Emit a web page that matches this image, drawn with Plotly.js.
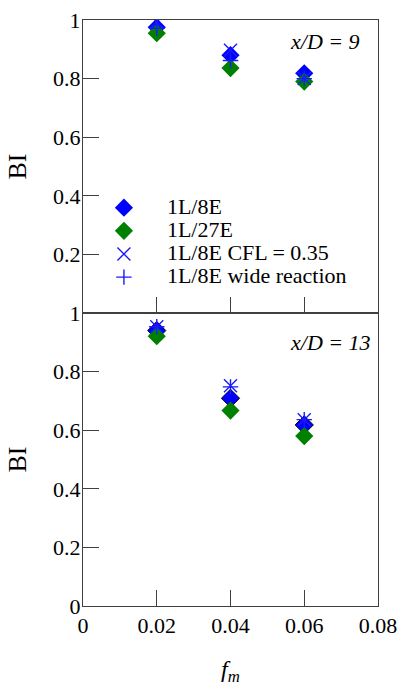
<!DOCTYPE html>
<html><head><meta charset="utf-8">
<script src="https://cdn.plot.ly/plotly-3.0.1.min.js"></script>
<style>html,body{margin:0;padding:0;background:#fff}</style>
</head><body><div id="chart" style="width:399px;height:686px"></div>
<script>
// f_m values
const fm = [0.02, 0.04, 0.06];
// x/D = 9 (top panel)
const bi9_1L8E = [0.975, 0.88, 0.818];
const bi9_1L27E = [0.955, 0.836, 0.79];
const bi9_CFL = [0.993, 0.897, 0.80];
const bi9_wide = [0.972, 0.862, 0.80];
// x/D = 13 (bottom panel)
const bi13_1L8E = [0.94, 0.709, 0.618];
const bi13_1L27E = [0.921, 0.667, 0.58];
const bi13_CFL = [0.953, 0.752, 0.636];
const bi13_wide = [0.953, 0.748, 0.636];
// labels
const seriesNames = ['1L/8E', '1L/27E', '1L/8E CFL = 0.35', '1L/8E wide reaction'];
const xTicks = [0, 0.02, 0.04, 0.06, 0.08];
const xTickText = ['0', '0.02', '0.04', '0.06', '0.08'];
const yTicksBottom = [0, 0.2, 0.4, 0.6, 0.8, 1];
const yTickTextBottom = ['0', '0.2', '0.4', '0.6', '0.8', '1'];
const yTicksTop = [0.2, 0.4, 0.6, 0.8, 1];
const yTickTextTop = ['0.2', '0.4', '0.6', '0.8', '1'];
const panelLabels = ['x/D = 9', 'x/D = 13'];

const BLUE = '#0000ff', GREEN = '#008000', XBLUE = '#1a1aff';
const lg = n => '<span style="font-size:22px">' + n + '</span>';

const traces = [
  {x: fm, y: bi9_1L8E, xaxis: 'x2', yaxis: 'y2', mode: 'markers', name: lg(seriesNames[0]),
   marker: {symbol: 'diamond', size: 14, color: BLUE, line: {width: 0}}},
  {x: fm, y: bi9_1L27E, xaxis: 'x2', yaxis: 'y2', mode: 'markers', name: lg(seriesNames[1]),
   marker: {symbol: 'diamond', size: 14, color: GREEN, line: {width: 0}}},
  {x: fm, y: bi9_CFL, xaxis: 'x2', yaxis: 'y2', mode: 'markers', name: lg(seriesNames[2]),
   marker: {symbol: 'x-thin-open', size: 13, color: XBLUE, line: {width: 1.4, color: XBLUE}}},
  {x: fm, y: bi9_wide, xaxis: 'x2', yaxis: 'y2', mode: 'markers', name: lg(seriesNames[3]),
   marker: {symbol: 'cross-thin-open', size: 11, color: XBLUE, line: {width: 1.4, color: XBLUE}}},
  {x: fm, y: bi13_1L8E, xaxis: 'x', yaxis: 'y', mode: 'markers', showlegend: false,
   marker: {symbol: 'diamond', size: 14, color: BLUE, line: {width: 1, color: '#000'}}},
  {x: fm, y: bi13_1L27E, xaxis: 'x', yaxis: 'y', mode: 'markers', showlegend: false,
   marker: {symbol: 'diamond', size: 14, color: GREEN, line: {width: 0}}},
  {x: fm, y: bi13_CFL, xaxis: 'x', yaxis: 'y', mode: 'markers', showlegend: false,
   marker: {symbol: 'x-thin-open', size: 13, color: XBLUE, line: {width: 1.4, color: XBLUE}}},
  {x: fm, y: bi13_wide, xaxis: 'x', yaxis: 'y', mode: 'markers', showlegend: false,
   marker: {symbol: 'cross-thin-open', size: 11, color: XBLUE, line: {width: 1.4, color: XBLUE}}}
];

const LC = '#404040';
const axBase = {showline: true, linecolor: LC, linewidth: 1, mirror: true, ticks: 'inside',
  ticklen: 16, tickcolor: LC, tickwidth: 1, showgrid: false, zeroline: false};

const layout = {
  width: 399, height: 686,
  margin: {l: 83, r: 21, t: 20, b: 80, pad: 0},
  paper_bgcolor: '#fff', plot_bgcolor: '#fff',
  font: {family: 'Liberation Serif', size: 22, color: '#000'},
  showlegend: true,
  legend: {x: -0.007, y: 0.708, xanchor: 'left', yanchor: 'top', bgcolor: 'rgba(0,0,0,0)',
    font: {family: 'Liberation Serif', size: 15.5}, tracegroupgap: 0, itemwidth: 76},
  xaxis: Object.assign({}, axBase, {domain: [0, 1], anchor: 'y', range: [0, 0.08],
    tickvals: xTicks, ticktext: xTickText,
    title: {text: '<i>f</i><sub><i>m</i></sub>', font: {size: 24}, standoff: 30}}),
  yaxis: Object.assign({}, axBase, {domain: [0, 0.5], anchor: 'x', range: [0, 1],
    tickvals: yTicksBottom, ticktext: yTickTextBottom, ticklabelstandoff: -3,
    title: {text: 'BI', standoff: 18}}),
  xaxis2: Object.assign({}, axBase, {domain: [0, 1], anchor: 'y2', range: [0, 0.08],
    tickvals: xTicks, showticklabels: false}),
  yaxis2: Object.assign({}, axBase, {domain: [0.5, 1], anchor: 'x2', range: [0, 1],
    tickvals: yTicksTop, ticktext: yTickTextTop, ticklabelstandoff: -3,
    title: {text: 'BI', standoff: 18}}),
  annotations: [
    {text: '<i>' + panelLabels[0] + '</i>', xref: 'paper', yref: 'paper', x: 0.695, y: 0.9625,
     xanchor: 'left', yanchor: 'middle', showarrow: false, font: {size: 22}},
    {text: '<i>' + panelLabels[1] + '</i>', xref: 'paper', yref: 'paper', x: 0.695, y: 0.449,
     xanchor: 'left', yanchor: 'middle', showarrow: false, font: {size: 22}}
  ]
};

Plotly.newPlot('chart', traces, layout, {displayModeBar: false, staticPlot: true});
</script>
</body></html>
